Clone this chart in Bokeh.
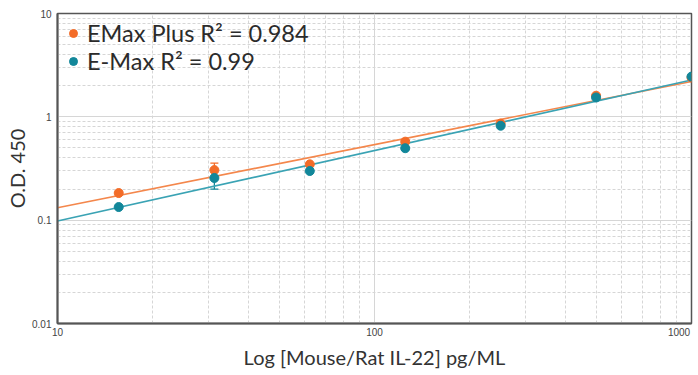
from bokeh.plotting import figure
from bokeh.models import (ColumnDataSource, FixedTicker, Legend, LegendItem,
                          Whisker, TeeHead)
from bokeh.embed import file_html
from bokeh.resources import INLINE

# ---- data ----
conc = [15.6, 31.25, 62.5, 125, 250, 500, 1000]
emax_plus = [0.183, 0.305, 0.347, 0.575, 0.86, 1.60, 2.40]
emax = [0.134, 0.256, 0.299, 0.497, 0.82, 1.54, 2.45]
emax_plus_err = [0, 0.052, 0, 0, 0, 0, 0]
emax_err = [0, 0.056, 0, 0, 0, 0, 0]

fit_x = [10, 1000]
fit_plus = [0.132, 2.20]
fit_emax = [0.098, 2.27]

x_major = [10, 100, 1000]
y_major = [0.01, 0.1, 1, 10]
x_labels = ["10", "100", "1000\u00a0\u00a0\u00a0"]
y_labels = ["0.01", "0.1", "1", "10"]

legend_labels = ["EMax Plus R\u00b2 = 0.984", "E-Max R\u00b2 = 0.99"]

ORANGE = "#F36C28"
ORANGE_LINE = "#F4874C"
TEAL = "#12879A"
TEAL_LINE = "#3AA3B4"
FONT = "Lato"

p = figure(width=698, height=375, x_axis_type="log", y_axis_type="log",
           x_range=(10, 1000), y_range=(0.01, 10),
           output_backend="svg", toolbar_location=None,
           min_border_left=57, min_border_right=7, min_border_top=13,
           min_border_bottom=52)
p.background_fill_color = "white"
p.border_fill_color = "white"
p.outline_line_color = "#555555"
p.outline_line_width = 1.5

def minors(lo, hi):
    out = []
    e = lo
    while e < hi:
        for m in range(2, 10):
            out.append(m * 10.0 ** e)
        e += 1
    return out

p.xaxis.ticker = FixedTicker(ticks=x_major, minor_ticks=minors(1, 3))
p.yaxis.ticker = FixedTicker(ticks=y_major, minor_ticks=minors(-2, 1))
p.xaxis.major_label_overrides = dict(zip(x_major, x_labels))
p.yaxis.major_label_overrides = dict(zip(y_major, y_labels))

for ax in (p.xaxis[0], p.yaxis[0]):
    ax.axis_line_color = "#555555"
    ax.axis_line_width = 2
    ax.major_tick_line_color = None
    ax.minor_tick_line_color = None
    ax.major_tick_out = 0
    ax.major_tick_in = 0
    ax.minor_tick_out = 0
    ax.minor_tick_in = 0
    ax.major_label_text_font = "Liberation Sans"
    ax.major_label_text_font_size = "10px"
    ax.major_label_text_color = "#444444"
    ax.axis_label_text_font = FONT
    ax.axis_label_text_font_style = "normal"
    ax.axis_label_text_color = "#333333"

p.xaxis.axis_label = "Log [Mouse/Rat IL-22] pg/ML"
p.xaxis.axis_label_text_font_size = "20px"
p.xaxis.major_label_standoff = 3
p.xaxis.axis_label_standoff = 4
p.yaxis.axis_label = "O.D. 450"
p.yaxis.axis_label_text_font_size = "20px"
p.yaxis.major_label_standoff = 6
p.yaxis.axis_label_standoff = 0

for g in (p.xgrid[0], p.ygrid[0]):
    g.grid_line_color = "#d6d6d6"
    g.grid_line_width = 1
    g.minor_grid_line_color = "#d6d6d6"
    g.minor_grid_line_dash = "3 2"
    g.minor_grid_line_width = 1

# fitted lines
p.line(fit_x, fit_plus, line_color=ORANGE_LINE, line_width=1.6)
p.line(fit_x, fit_emax, line_color=TEAL_LINE, line_width=1.6)

# error bars
def err_source(vals, errs):
    xs = [c for c, e in zip(conc, errs) if e > 0]
    up = [v + e for v, e in zip(vals, errs) if e > 0]
    lo = [v - e for v, e in zip(vals, errs) if e > 0]
    return ColumnDataSource(dict(x=xs, upper=up, lower=lo))

for vals, errs, col in ((emax_plus, emax_plus_err, ORANGE), (emax, emax_err, TEAL)):
    w = Whisker(source=err_source(vals, errs), base="x", upper="upper", lower="lower",
                line_color=col, line_width=1.3,
                upper_head=TeeHead(size=8, line_color=col, line_width=1.3),
                lower_head=TeeHead(size=8, line_color=col, line_width=1.3))
    p.add_layout(w)

r_plus = p.scatter(conc, emax_plus, size=9, marker="circle",
                   fill_color=ORANGE, line_color=ORANGE)
r_emax = p.scatter(conc, emax, size=9, marker="circle",
                   fill_color=TEAL, line_color=TEAL)

legend = Legend(items=[LegendItem(label=legend_labels[0], renderers=[r_plus]),
                       LegendItem(label=legend_labels[1], renderers=[r_emax])],
                location="top_left")
legend.background_fill_alpha = 0
legend.border_line_alpha = 0
legend.label_text_font = FONT
legend.label_text_font_size = "23.5px"
legend.label_text_color = "#2b2b2b"
legend.glyph_width = 20
legend.glyph_height = 24
legend.label_height = 24
legend.label_standoff = 4
legend.spacing = 0
legend.margin = 2
legend.padding = 4
p.add_layout(legend)

open("out.html", "w").write(file_html(p, INLINE))
